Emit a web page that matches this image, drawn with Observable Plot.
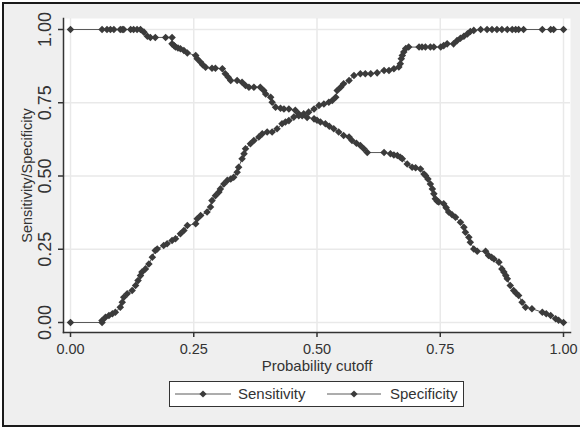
<!DOCTYPE html>
<html>
<head>
<meta charset="utf-8">
<script src="https://cdn.jsdelivr.net/npm/d3@7"></script>
<script src="https://cdn.jsdelivr.net/npm/@observablehq/plot@0.6"></script>
<style>
  html, body { margin: 0; padding: 0; background: #ffffff; }
  body { width: 580px; height: 427px; position: relative; overflow: hidden; font-family: "Liberation Sans", Arial, sans-serif; }
  #bg { position: absolute; left: 2px; top: 2px; width: 578px; height: 425px; box-sizing: border-box;
        background: #efefef; border-top: 2px solid #1a1a1a; border-left: 2px solid #1a1a1a; border-bottom: 2px solid #1a1a1a; }
  #chart { position: absolute; left: 0; top: 0; }
  #legend { position: absolute; left: 169px; top: 381px; width: 295px; height: 26px; box-sizing: border-box;
            background: #ffffff; border: 1px solid #333; }
  #legend .sym { position: absolute; top: 0; height: 24px; }
  #legend .lab { position: absolute; top: 0; line-height: 24px; font-size: 15px; color: #333; white-space: nowrap; }
</style>
</head>
<body>
<div id="bg"></div>
<div id="chart"></div>
<div id="legend"></div>
<script>
// ---- Data ----
const cutoffSens = [0,0.064,0.074,0.081,0.088,0.101,0.105,0.108,0.122,0.128,0.135,0.142,0.149,0.156,0.162,0.172,0.193,0.206,0.206,0.210,0.213,0.218,0.223,0.230,0.237,0.254,0.257,0.264,0.268,0.274,0.287,0.294,0.308,0.314,0.320,0.325,0.338,0.348,0.355,0.362,0.372,0.385,0.392,0.396,0.406,0.409,0.416,0.426,0.433,0.443,0.456,0.463,0.470,0.480,0.494,0.500,0.507,0.517,0.525,0.534,0.544,0.554,0.565,0.571,0.580,0.588,0.595,0.602,0.636,0.649,0.656,0.663,0.669,0.673,0.683,0.693,0.700,0.710,0.717,0.720,0.725,0.730,0.734,0.737,0.740,0.744,0.747,0.757,0.762,0.767,0.774,0.781,0.791,0.798,0.801,0.808,0.811,0.818,0.825,0.842,0.848,0.854,0.859,0.869,0.875,0.879,0.883,0.886,0.892,0.899,0.904,0.909,0.916,0.923,0.936,0.957,0.965,0.974,0.984,0.990,1.0];
const sensitivity = [1,1,1,1,1,1,1,1,1,1,1,1,0.991,0.977,0.973,0.973,0.973,0.973,0.951,0.945,0.940,0.937,0.934,0.928,0.920,0.911,0.900,0.888,0.880,0.871,0.868,0.868,0.866,0.849,0.837,0.826,0.826,0.820,0.809,0.803,0.803,0.803,0.792,0.780,0.769,0.752,0.735,0.731,0.729,0.729,0.724,0.712,0.706,0.700,0.695,0.690,0.684,0.678,0.670,0.661,0.650,0.638,0.633,0.621,0.612,0.604,0.593,0.580,0.580,0.576,0.572,0.570,0.564,0.559,0.541,0.530,0.528,0.524,0.507,0.502,0.490,0.473,0.456,0.439,0.422,0.414,0.411,0.405,0.392,0.377,0.368,0.359,0.342,0.325,0.308,0.291,0.274,0.251,0.243,0.243,0.229,0.223,0.217,0.206,0.183,0.172,0.160,0.149,0.126,0.109,0.100,0.092,0.069,0.052,0.047,0.035,0.030,0.024,0.013,0.008,0];

const cutoffSpec = [0,0.064,0.064,0.071,0.078,0.085,0.091,0.101,0.105,0.108,0.115,0.125,0.132,0.137,0.142,0.145,0.152,0.159,0.166,0.172,0.176,0.189,0.196,0.206,0.213,0.223,0.230,0.237,0.254,0.257,0.264,0.277,0.284,0.287,0.294,0.301,0.304,0.311,0.318,0.325,0.331,0.338,0.341,0.348,0.352,0.355,0.365,0.372,0.382,0.389,0.399,0.409,0.419,0.429,0.436,0.443,0.453,0.463,0.473,0.483,0.494,0.504,0.514,0.524,0.531,0.538,0.541,0.548,0.554,0.565,0.575,0.588,0.598,0.609,0.622,0.636,0.646,0.656,0.666,0.669,0.671,0.673,0.676,0.680,0.686,0.707,0.713,0.720,0.730,0.737,0.751,0.757,0.764,0.777,0.784,0.791,0.798,0.805,0.811,0.818,0.832,0.845,0.855,0.865,0.875,0.886,0.896,0.903,0.909,0.919,0.957,0.974,0.980,1.0];
const specificity = [0,0,0.007,0.018,0.024,0.030,0.035,0.052,0.069,0.086,0.098,0.109,0.126,0.143,0.160,0.172,0.183,0.200,0.223,0.246,0.251,0.263,0.269,0.280,0.286,0.303,0.314,0.331,0.337,0.354,0.365,0.377,0.394,0.416,0.433,0.445,0.456,0.473,0.485,0.490,0.496,0.513,0.530,0.559,0.576,0.593,0.610,0.621,0.633,0.644,0.650,0.650,0.661,0.678,0.684,0.689,0.701,0.706,0.712,0.718,0.729,0.741,0.746,0.752,0.758,0.769,0.792,0.803,0.815,0.826,0.843,0.849,0.849,0.849,0.852,0.860,0.860,0.866,0.872,0.883,0.900,0.911,0.923,0.935,0.940,0.940,0.940,0.940,0.940,0.940,0.940,0.945,0.951,0.951,0.962,0.970,0.977,0.985,0.993,0.997,1,1,1,1,1,1,1,1,1,1,1,1,1,1];

const tickValues = [0, 0.25, 0.5, 0.75, 1];
const tickLabels = ["0.00", "0.25", "0.50", "0.75", "1.00"];
const seriesNames = ["Sensitivity", "Specificity"];

// ---- Build tables ----
const sensRows = cutoffSens.map((c, i) => ({cutoff: c, value: sensitivity[i]}));
const specRows = cutoffSpec.map((c, i) => ({cutoff: c, value: specificity[i]}));
const fmt = d => tickLabels[tickValues.indexOf(d)];

const lineColor = "#5a5a5a";
const dotColor = "#3b3b3b";
const axisColor = "#333333";

const chart = Plot.plot({
  width: 580,
  height: 375,
  marginLeft: 63,
  marginRight: 10,
  marginTop: 18,
  marginBottom: 43,
  style: {background: "transparent", color: axisColor, fontFamily: "'Liberation Sans', Arial, sans-serif"},
  x: {domain: [0, 1], insetLeft: 7, insetRight: 7},
  y: {domain: [0, 1], insetTop: 11, insetBottom: 10},
  marks: [
    Plot.frame({fill: "white", stroke: "none"}),
    Plot.gridX(tickValues, {stroke: "#e9e9e9", strokeOpacity: 1, strokeWidth: 1.5}),
    Plot.gridY(tickValues, {stroke: "#e9e9e9", strokeOpacity: 1, strokeWidth: 1.5}),
    Plot.frame({anchor: "left", stroke: axisColor, strokeWidth: 1.5}),
    Plot.frame({anchor: "bottom", stroke: axisColor, strokeWidth: 1.5}),
    Plot.axisX(tickValues, {tickSize: 5, tickPadding: 6, fontSize: 14.5, tickFormat: fmt, label: null, stroke: axisColor, strokeWidth: 1.5}),
    Plot.axisY(tickValues, {tickSize: 5, tickFormat: () => "", label: null, stroke: axisColor, strokeWidth: 1.5}),
    Plot.text(tickValues, {y: d => d, frameAnchor: "left", dx: -18, rotate: -90, textAnchor: "middle", lineAnchor: "middle", text: fmt, fontSize: 18, fill: axisColor}),
    Plot.text(["Probability cutoff"], {frameAnchor: "bottom", dy: 34, textAnchor: "middle", lineAnchor: "middle", fontSize: 15, fill: axisColor}),
    Plot.text(["Sensitivity/Specificity"], {frameAnchor: "left", dx: -36, rotate: -90, textAnchor: "middle", lineAnchor: "middle", fontSize: 14.5, fill: axisColor}),
    Plot.line(sensRows, {x: "cutoff", y: "value", stroke: lineColor, strokeWidth: 1}),
    Plot.line(specRows, {x: "cutoff", y: "value", stroke: lineColor, strokeWidth: 1}),
    Plot.dot(sensRows, {x: "cutoff", y: "value", symbol: "diamond2", r: 3.4, fill: dotColor, stroke: "none"}),
    Plot.dot(specRows, {x: "cutoff", y: "value", symbol: "diamond2", r: 3.4, fill: dotColor, stroke: "none"})
  ]
});
document.getElementById("chart").appendChild(chart);

// ---- Legend ----
const legend = document.getElementById("legend");
const legendPos = [{sym: 5, w: 56, lab: 68}, {sym: 157, w: 54, lab: 220}];
seriesNames.forEach((name, i) => {
  const p = legendPos[i];
  const ns = "http://www.w3.org/2000/svg";
  const svg = document.createElementNS(ns, "svg");
  svg.setAttribute("class", "sym");
  svg.setAttribute("width", p.w);
  svg.setAttribute("height", 24);
  svg.style.left = p.sym + "px";
  const line = document.createElementNS(ns, "line");
  line.setAttribute("x1", 0); line.setAttribute("x2", p.w);
  line.setAttribute("y1", 12); line.setAttribute("y2", 12);
  line.setAttribute("stroke", lineColor); line.setAttribute("stroke-width", 1);
  svg.appendChild(line);
  const c = p.w / 2;
  const dia = document.createElementNS(ns, "polygon");
  dia.setAttribute("points", `${c-3.6},12 ${c},8.4 ${c+3.6},12 ${c},15.6`);
  dia.setAttribute("fill", dotColor);
  svg.appendChild(dia);
  legend.appendChild(svg);
  const lab = document.createElement("div");
  lab.className = "lab";
  lab.style.left = p.lab + "px";
  lab.textContent = name;
  legend.appendChild(lab);
});
</script>
</body>
</html>
